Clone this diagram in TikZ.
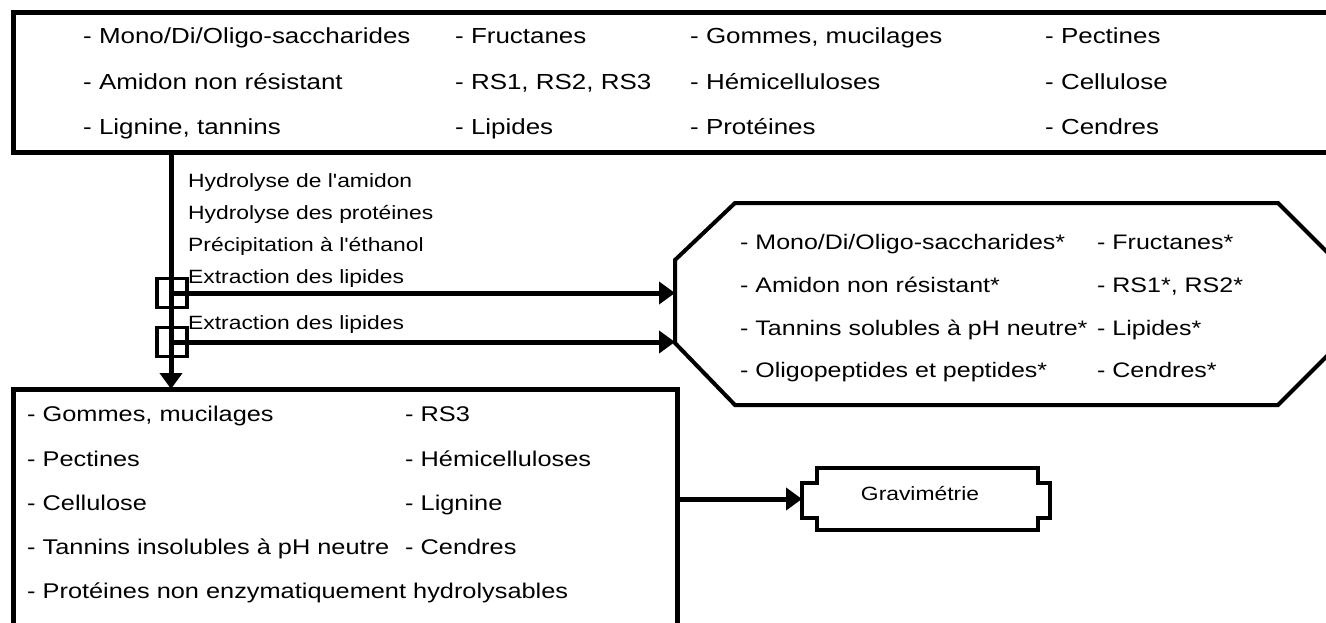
\documentclass[tikz,border=0pt]{standalone}
\usepackage{fontspec}
\newfontfamily\dfont[FakeStretch=1.19]{Liberation Sans}
\usetikzlibrary{arrows.meta}
\begin{document}
\begin{tikzpicture}[x=1pt,y=-1pt,
  txt/.style={anchor=base west, inner sep=0pt, font=\fontsize{21.8}{26}\dfont},
  txtb/.style={anchor=base west, inner sep=0pt, font=\fontsize{21.3}{26}\dfont},
  txto/.style={anchor=base west, inner sep=0pt, font=\fontsize{21}{26}\dfont},
  proc/.style={anchor=base west, inner sep=0pt, font=\fontsize{19.2}{23}\dfont},
  boxline/.style={draw, line width=5pt, outer sep=0pt, inner sep=0pt},
  sqbox/.style={draw, line width=3.5pt, minimum width=30pt, minimum height=29pt, inner sep=0pt, outer sep=0pt},
  arr/.style={line width=5pt, -{Triangle[length=16pt,width=22pt]}},
  shapeline/.style={line width=4pt, line join=miter}
]
\useasboundingbox (0,0) rectangle (1326,622);
\clip (0,0) rectangle (1326,622);

% top box
\node[boxline, minimum width=1340pt, minimum height=140pt, anchor=north west] (top) at (13,12) {};
\node[txt] (t11) at (83,43) {- Mono/Di/Oligo-saccharides};
\node[txt] (t12) at (455,43) {- Fructanes};
\node[txt] (t13) at (690,43) {- Gommes, mucilages};
\node[txt] (t14) at (1045,43) {- Pectines};
\node[txt] (t21) at (83,89) {- Amidon non résistant};
\node[txt] (t22) at (455,89) {- RS1, RS2, RS3};
\node[txt] (t23) at (690,89) {- Hémicelluloses};
\node[txt] (t24) at (1045,89) {- Cellulose};
\node[txt] (t31) at (83,134) {- Lignine, tannins};
\node[txt] (t32) at (455,134) {- Lipides};
\node[txt] (t33) at (690,134) {- Protéines};
\node[txt] (t34) at (1045,134) {- Cendres};

% bottom box
\node[boxline, minimum width=664pt, minimum height=260pt, anchor=north west] (bot) at (13,389) {};
\node[txtb] (b11) at (27,421) {- Gommes, mucilages};
\node[txtb] (b12) at (405,421) {- RS3};
\node[txtb] (b21) at (27,466) {- Pectines};
\node[txtb] (b22) at (405,466) {- Hémicelluloses};
\node[txtb] (b31) at (27,510) {- Cellulose};
\node[txtb] (b32) at (405,510) {- Lignine};
\node[txtb] (b41) at (27,554) {- Tannins insolubles à pH neutre};
\node[txtb] (b42) at (405,554) {- Cendres};
\node[txtb] (b51) at (27,598) {- Protéines non enzymatiquement hydrolysables};

% process labels
\node[proc] (p1) at (188,187) {Hydrolyse de l'amidon};
\node[proc] (p2) at (188,219) {Hydrolyse des protéines};
\node[proc] (p3) at (188,251) {Précipitation à l'éthanol};
\node[proc] (p4) at (188,283) {Extraction des lipides};
\node[proc] (p5) at (188,329) {Extraction des lipides};

% squares
\node[sqbox] (s1) at (172,293) {};
\node[sqbox] (s2) at (172,342) {};

% main vertical arrow
\coordinate (vx) at (171,0);
\draw[arr] (top.south -| vx) -- (bot.north -| vx);

% octagon
\coordinate (oW) at (675,0);
\draw[shapeline] (735,203) -- (1278,203) -- (1340,265) -- (1340,343) -- (1278,405) -- (735,405) -- (675,343) -- (675,260) -- cycle;
\node[txto] (o11) at (740,249) {- Mono/Di/Oligo-saccharides*};
\node[txto] (o12) at (1097,249) {- Fructanes*};
\node[txto] (o21) at (740,292) {- Amidon non résistant*};
\node[txto] (o22) at (1097,292) {- RS1*, RS2*};
\node[txto] (o31) at (740,335) {- Tannins solubles à pH neutre*};
\node[txto] (o32) at (1097,335) {- Lipides*};
\node[txto] (o41) at (740,377) {- Oligopeptides et peptides*};
\node[txto] (o42) at (1097,377) {- Cendres*};

% horizontal arrows
\draw[arr] (s1.center -| vx) -- (s1.center -| oW);
\draw[arr] (s2.center -| vx) -- (s2.center -| oW);

% gravimetrie
\node[proc, anchor=center] (grav) at (920,494) {Gravimétrie};
\draw[line width=4.5pt] (817,468) -- (1038,468) -- (1038,483) -- (1050,483) -- (1050,518) -- (1038,518) -- (1038,530) -- (817,530) -- (817,518) -- (802,518) -- (802,483) -- (817,483) -- cycle;
\coordinate (gw) at (802,499);
\draw[arr] (bot.east |- gw) -- (gw);
\end{tikzpicture}
\end{document}
